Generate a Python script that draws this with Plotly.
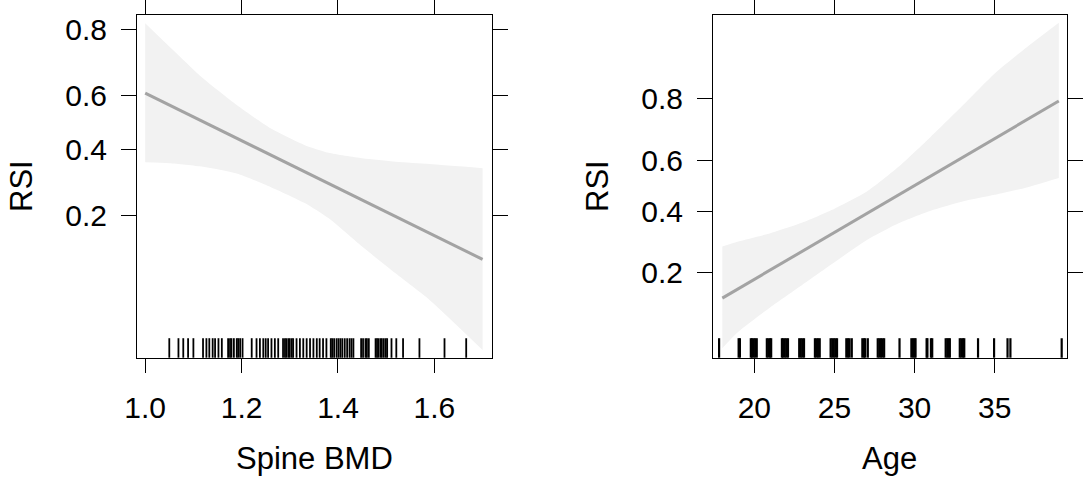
import numpy as np
import plotly.graph_objects as go

# ---------------- data ----------------
# Left panel: RSI effect of Spine BMD (probability scale, drawn on logit axis)
bmd_grid = [1.00, 1.05, 1.12, 1.19, 1.26, 1.33, 1.38, 1.45, 1.52, 1.59, 1.70]
bmd_upper = [0.814, 0.756, 0.659, 0.565, 0.479, 0.418, 0.390, 0.371, 0.359, 0.351, 0.337]
bmd_lower = [0.357, 0.354, 0.342, 0.320, 0.278, 0.233, 0.195, 0.137, 0.096, 0.067, 0.033]
bmd_fit_x = [1.00, 1.70]
bmd_fit = [0.608, 0.116]
bmd_rug = [1.050, 1.069, 1.079, 1.089, 1.100, 1.120, 1.127, 1.133, 1.140, 1.145,
           1.152, 1.159, 1.172, 1.176, 1.179, 1.184, 1.190, 1.193, 1.197, 1.202,
           1.221, 1.231, 1.238, 1.245, 1.250, 1.255, 1.262, 1.269, 1.276, 1.286,
           1.290, 1.293, 1.297, 1.300, 1.304, 1.307, 1.314, 1.321, 1.328, 1.335,
           1.342, 1.349, 1.356, 1.362, 1.369, 1.376, 1.385, 1.388, 1.392, 1.397,
           1.401, 1.405, 1.409, 1.414, 1.419, 1.424, 1.428, 1.432, 1.448, 1.452,
           1.457, 1.460, 1.464, 1.478, 1.481, 1.484, 1.488, 1.491, 1.495, 1.499,
           1.502, 1.511, 1.521, 1.535, 1.569, 1.621, 1.666]

# Right panel: RSI effect of Age
age_grid = [18, 19, 21, 23, 25, 27, 29, 31, 33, 35, 37, 39]
age_upper = [0.275, 0.291, 0.319, 0.357, 0.409, 0.475, 0.574, 0.684, 0.781, 0.856, 0.900, 0.930]
age_lower = [0.070, 0.089, 0.126, 0.171, 0.228, 0.295, 0.354, 0.401, 0.437, 0.463, 0.4925, 0.530]
age_fit_x = [18, 39]
age_fit = [0.143, 0.793]
age_rug = [17.80, 19.02, 19.10,
           19.78, 19.86, 19.95, 20.05, 20.15,
           20.78, 20.88, 20.98, 21.05,
           21.72, 21.80, 21.90, 22.00, 22.10,
           22.80, 22.90, 23.00, 23.10,
           23.78, 23.88, 23.98, 24.08,
           24.76, 24.86, 24.96, 25.06, 25.16,
           25.74, 25.84, 25.94, 26.08,
           26.74, 26.84, 26.92, 27.08,
           27.70, 27.80, 27.90, 28.00, 28.10,
           29.06,
           29.80, 29.90, 30.00, 30.06,
           30.75, 30.80, 31.02, 31.10,
           31.94, 32.04, 32.12, 32.20,
           32.82, 32.92, 33.02, 33.10,
           33.96, 34.96, 35.80, 35.98, 39.18]

y_ticks = [0.2, 0.4, 0.6, 0.8]
y_tick_text = ["0.2", "0.4", "0.6", "0.8"]
bmd_ticks = [1.0, 1.2, 1.4, 1.6]
bmd_tick_text = ["1.0", "1.2", "1.4", "1.6"]
age_ticks = [20, 25, 30, 35]
age_tick_text = ["20", "25", "30", "35"]


def logit(p):
    p = np.asarray(p, dtype=float)
    return np.log(p / (1 - p))


FONT = "Liberation Sans, Arial, Helvetica, sans-serif"
BAND = "#f2f2f2"
LINE = "#a3a3a3"
W, H = 1084, 493

fig = go.Figure()


def add_panel(xa, ya, grid, upper, lower, fit_x, fit):
    fig.add_trace(go.Scatter(
        x=grid, y=logit(lower), mode="lines",
        line=dict(width=0, color=BAND, shape="spline", smoothing=0.6),
        hoverinfo="skip", showlegend=False, xaxis=xa, yaxis=ya))
    fig.add_trace(go.Scatter(
        x=grid, y=logit(upper), mode="lines", fill="tonexty", fillcolor=BAND,
        line=dict(width=0, color=BAND, shape="spline", smoothing=0.6),
        hoverinfo="skip", showlegend=False, xaxis=xa, yaxis=ya))
    fig.add_trace(go.Scatter(
        x=fit_x, y=logit(fit), mode="lines",
        line=dict(color=LINE, width=3), showlegend=False,
        xaxis=xa, yaxis=ya))


add_panel("x", "y", bmd_grid, bmd_upper, bmd_lower, bmd_fit_x, bmd_fit)
add_panel("x2", "y2", age_grid, age_upper, age_lower, age_fit_x, age_fit)

# rug marks
rug_h = 19.5 / (357.7 - 15)
for v in bmd_rug:
    fig.add_shape(type="line", xref="x", yref="y domain", x0=v, x1=v, y0=0, y1=rug_h,
                  line=dict(color="black", width=1.8))
for v in age_rug:
    fig.add_shape(type="line", xref="x2", yref="y2 domain", x0=v, x1=v, y0=0, y1=rug_h,
                  line=dict(color="black", width=2.2))

top, bottom = 15, 357.7
ydom = [1 - bottom / H, 1 - top / H]
common = dict(showline=True, linecolor="black", linewidth=1, mirror="ticks",
              ticks="outside", tickcolor="black", tickwidth=1,
              showgrid=False, zeroline=False, automargin=False,
              tickfont=dict(family=FONT, size=30, color="black"))

fig.update_layout(
    template="none",
    width=W, height=H,
    margin=dict(l=0, r=0, t=0, b=0, pad=0),
    paper_bgcolor="white", plot_bgcolor="white",
    showlegend=False,
    xaxis=dict(domain=[137 / W, 491.5 / W], range=[0.983, 1.7185],
               tickvals=bmd_ticks, ticktext=bmd_tick_text, ticklen=14,
               ticklabelstandoff=9, anchor="y", **common),
    yaxis=dict(domain=ydom, range=[-3.492, 1.600],
               tickvals=list(logit(y_ticks)), ticktext=y_tick_text, ticklen=15,
               ticklabelstandoff=8, anchor="x", **common),
    xaxis2=dict(domain=[713 / W, 1066.5 / W], range=[17.42, 39.48],
                tickvals=age_ticks, ticktext=age_tick_text, ticklen=14,
                ticklabelstandoff=9, anchor="y2", **common),
    yaxis2=dict(domain=ydom, range=[-2.738, 2.711],
                tickvals=list(logit(y_ticks)), ticktext=y_tick_text, ticklen=15,
                ticklabelstandoff=8, anchor="x2", **common),
)

# axis titles
tfont = dict(family=FONT, size=31, color="black")
fig.add_annotation(text="Spine BMD", x=314 / W, y=1 - 458 / H, xref="paper", yref="paper",
                   showarrow=False, font=tfont, xanchor="center", yanchor="middle")
fig.add_annotation(text="Age", x=889.5 / W, y=1 - 458 / H, xref="paper", yref="paper",
                   showarrow=False, font=tfont, xanchor="center", yanchor="middle")
fig.add_annotation(text="RSI", x=21 / W, y=1 - 186 / H, xref="paper", yref="paper",
                   showarrow=False, font=tfont, textangle=-90, xanchor="center", yanchor="middle")
fig.add_annotation(text="RSI", x=597 / W, y=1 - 186 / H, xref="paper", yref="paper",
                   showarrow=False, font=tfont, textangle=-90, xanchor="center", yanchor="middle")

fig.write_html("out.html", config={"displayModeBar": False},
               post_script="document.body.style.margin='0';")
